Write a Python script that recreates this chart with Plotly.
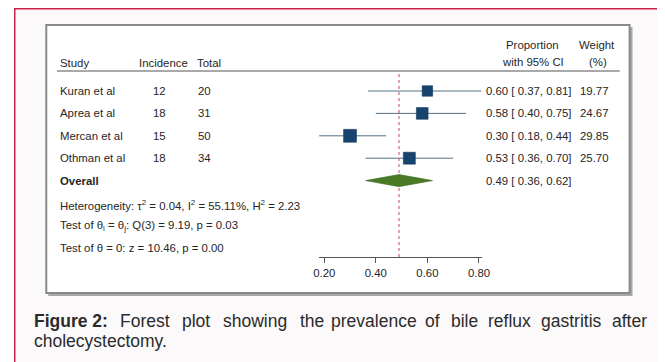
import plotly.graph_objects as go

# ---------------- data ----------------
studies = ["Kuran et al", "Aprea et al", "Mercan et al", "Othman et al"]
incidence = [12, 18, 15, 18]
total = [20, 31, 50, 34]
prop = [0.60, 0.58, 0.30, 0.53]
ci_lo = [0.37, 0.40, 0.18, 0.36]
ci_hi = [0.81, 0.75, 0.44, 0.70]
weight = [19.77, 24.67, 29.85, 25.70]
overall_est = 0.49
overall_lo = 0.36
overall_hi = 0.62
tick_vals = [0.20, 0.40, 0.60, 0.80]
tick_text = ["0.20", "0.40", "0.60", "0.80"]
stats_lines = [
    "Heterogeneity: τ<sup>2</sup> = 0.04, I<sup>2</sup> = 55.11%, H<sup>2</sup> = 2.23",
    "Test of θ<sub>i</sub> = θ<sub>j</sub>: Q(3) = 9.19, p = 0.03",
    "Test of θ = 0: z = 10.46, p = 0.00",
]
caption_words = ["<b>Figure 2:</b>", "Forest", "plot", "showing", "the", "prevalence",
                 "of", "bile", "reflux", "gastritis", "after"]
caption_line2 = "cholecystectomy."

# ---------------- layout helpers ----------------
# The page body has an 8px margin, so the figure is drawn 8px in from the
# top-left of the window; coordinates below are window pixels.
OFF = 8
W, H = 665 - OFF, 362 - OFF
def X(px): return (px - OFF) / W
def Y(py): return 1 - (py - OFF) / H

FONT = "Liberation Sans, Arial, Helvetica, sans-serif"
TXT = "#262626"
FS = 11.4

row_px0, row_step = 91.0, 22.4
y_top_px, y_bot_px = 72.0, 257.0
r_top = (y_top_px - row_px0) / row_step
r_bot = (y_bot_px - row_px0) / row_step

def xpx(v):
    return 325 + (v - 0.2) * 263.5

xmin = min(ci_lo)
xmax = max(ci_hi)

fig = go.Figure()

# CI lines
cx, cy = [], []
for i in range(len(studies)):
    cx += [ci_lo[i], ci_hi[i], None]
    cy += [i, i, None]
fig.add_trace(go.Scatter(x=cx, y=cy, mode="lines",
                         line=dict(color="#557083", width=1), hoverinfo="skip",
                         showlegend=False))

# squares
fig.add_trace(go.Scatter(x=prop, y=list(range(len(studies))), mode="markers",
                         marker=dict(symbol="square", color="#17436f", opacity=1,
                                     size=[2.35 * w ** 0.5 for w in weight],
                                     line=dict(color="#10355a", width=0.6)),
                         cliponaxis=False, showlegend=False))

# overall diamond
r_ov = len(studies)
dh = 0.27
fig.add_trace(go.Scatter(x=[overall_lo, overall_est, overall_hi, overall_est, overall_lo],
                         y=[r_ov, r_ov - dh, r_ov, r_ov + dh, r_ov],
                         mode="lines", fill="toself", fillcolor="#4a7a25",
                         line=dict(color="#3f6b1e", width=0.6), showlegend=False))

shapes = []
# outer framed page
shapes.append(dict(type="rect", xref="paper", yref="paper", x0=X(8), x1=X(700), y0=Y(8), y1=Y(400),
                   fillcolor="#fcf9fa", line=dict(width=0), layer="below"))
shapes.append(dict(type="line", xref="paper", yref="paper", x0=X(8), x1=X(700), y0=Y(8.75), y1=Y(8.75),
                   line=dict(color="#c8204a", width=1.5), layer="below"))
shapes.append(dict(type="line", xref="paper", yref="paper", x0=X(8.75), x1=X(8.75), y0=Y(8), y1=Y(400),
                   line=dict(color="#c8204a", width=1.5), layer="below"))
# chart box with shadow
shapes.append(dict(type="rect", xref="paper", yref="paper", x0=X(43), x1=X(640), y0=Y(27), y1=Y(296),
                   fillcolor="#a8a8a8", line=dict(width=0), layer="below"))
shapes.append(dict(type="rect", xref="paper", yref="paper", x0=X(41), x1=X(637), y0=Y(25), y1=Y(293),
                   fillcolor="white", line=dict(color="#8a8a8a", width=2), layer="below"))
# header underline
shapes.append(dict(type="line", xref="paper", yref="paper", x0=X(52), x1=X(627), y0=Y(71), y1=Y(71),
                   line=dict(color="#555555", width=1.2), layer="below"))
# overall dashed line
shapes.append(dict(type="line", xref="x", yref="y domain", x0=overall_est, x1=overall_est, y0=0, y1=1,
                   line=dict(color="#cc4466", width=1, dash="3px,3px"), layer="below"))

ann = []
def add(text, x, y, xanchor="left", size=FS, yref="paper", color=TXT):
    ann.append(dict(text=text, x=x, y=y, xref="paper", yref=yref, xanchor=xanchor,
                    yanchor="middle", showarrow=False,
                    font=dict(family=FONT, size=size, color=color)))

def ci_text(e, lo, hi):
    return f"{e:.2f} [&nbsp;{lo:.2f},&nbsp;{hi:.2f}]"

# headers
add("Study", X(53), Y(63))
add("Incidence", X(134), Y(63))
add("Total", X(193), Y(63))
add("Proportion", X(538), Y(45), "center")
add("with 95% CI", X(538), Y(62), "center")
add("Weight", X(604), Y(45), "center")
add("(%)", X(605), Y(62), "center")

# rows
for i, s in enumerate(studies):
    add(s, X(53), i, yref="y")
    add(str(incidence[i]), X(157), i, "center", yref="y")
    add(str(total[i]), X(203), i, "center", yref="y")
    add(ci_text(prop[i], ci_lo[i], ci_hi[i]), X(488), i, yref="y")
    add(f"{weight[i]:.2f}", X(618), i, "right", yref="y")

add("<b>Overall</b>", X(53), r_ov, yref="y")
add(ci_text(overall_est, overall_lo, overall_hi), X(488), r_ov, yref="y")

for line, py in zip(stats_lines, [205, 226, 248]):
    add(line, X(53), Y(py))

# caption (justified first line)
word_x = [26, 114, 178, 220, 298, 330, 426, 452, 490, 544, 617]
for wtxt, wx in zip(caption_words, word_x):
    add(wtxt, X(wx), Y(321), size=17.5, color="#2b2b2b")
add(caption_line2, X(26), Y(341), size=17.5, color="#2b2b2b")

fig.update_layout(
    width=W, height=H, margin=dict(l=0, r=0, t=0, b=0),
    paper_bgcolor="white", plot_bgcolor="rgba(0,0,0,0)",
    showlegend=False, shapes=shapes, annotations=ann,
    xaxis=dict(domain=[X(xpx(xmin)), X(xpx(xmax))], range=[xmin, xmax],
               showline=True, linecolor="#555555", linewidth=1,
               ticks="outside", ticklen=5, tickcolor="#555555", tickwidth=1,
               tickvals=tick_vals, ticktext=tick_text,
               tickfont=dict(family=FONT, size=FS, color=TXT),
               showgrid=False, zeroline=False, fixedrange=True),
    yaxis=dict(domain=[Y(y_bot_px), Y(y_top_px)], range=[r_bot, r_top],
               visible=False, showgrid=False, zeroline=False, fixedrange=True),
)

fig.write_html("out.html")
